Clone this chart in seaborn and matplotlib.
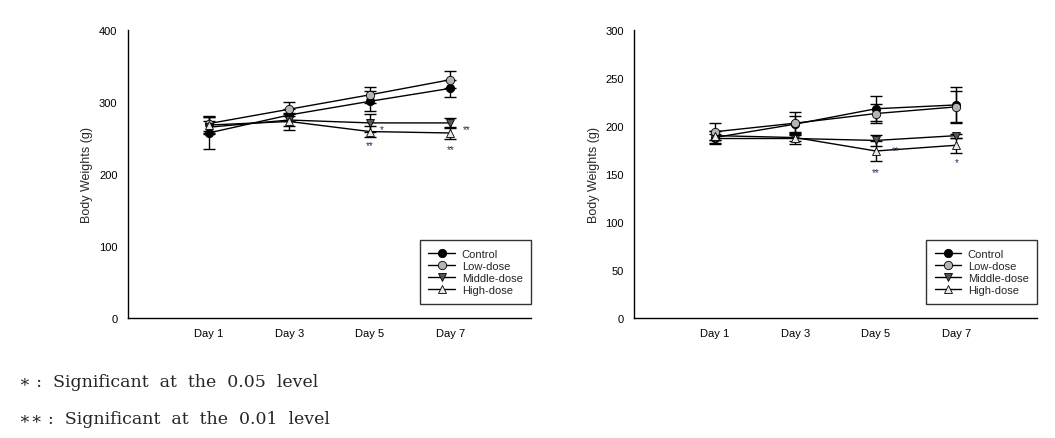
import numpy as np
import pandas as pd
import matplotlib
matplotlib.use("Agg")
import matplotlib.pyplot as plt
import seaborn as sns

DAYS = [1, 3, 5, 7]
DAY_LABELS = ["Day 1", "Day 3", "Day 5", "Day 7"]
GROUPS = ["Control", "Low-dose", "Middle-dose", "High-dose"]

# left panel: mean and SD per group (g)
LEFT_MEAN = {
    "Control": [257, 282, 301, 319],
    "Low-dose": [270, 290, 310, 331],
    "Middle-dose": [265, 275, 271, 271],
    "High-dose": [268, 273, 259, 257],
}
LEFT_SD = {
    "Control": [22, 8, 14, 12],
    "Low-dose": [10, 10, 11, 12],
    "Middle-dose": [9, 8, 12, 7],
    "High-dose": [11, 12, 8, 8],
}
# right panel
RIGHT_MEAN = {
    "Control": [188, 202, 218, 222],
    "Low-dose": [194, 203, 213, 220],
    "Middle-dose": [187, 187, 185, 190],
    "High-dose": [190, 188, 174, 180],
}
RIGHT_SD = {
    "Control": [7, 8, 13, 19],
    "Low-dose": [9, 12, 10, 16],
    "Middle-dose": [5, 6, 6, 2],
    "High-dose": [5, 4, 10, 8],
}

# significance marks: (day, y, label)
LEFT_STARS = [(5, 240, "**"), (5.3, 262, "*"), (7, 234, "**"), (7.4, 263, "**")]
RIGHT_STARS = [(5, 152, "**"), (5.5, 175, "**"), (7, 162, "*")]

MARKERS = {"Control": "o", "Low-dose": "o", "Middle-dose": "v", "High-dose": "^"}
FACES = {"Control": "black", "Low-dose": "#b4b4b4", "Middle-dose": "#555555", "High-dose": "#e8e8e8"}
LINES = {"Control": "black", "Low-dose": "#3a3a3a", "Middle-dose": "black", "High-dose": "#4a4a4a"}


def to_long(mean, sd):
    rows = []
    for g in GROUPS:
        for d, m, s in zip(DAYS, mean[g], sd[g]):
            rows.append({"day": d, "group": g, "weight": m, "sd": s})
    return pd.DataFrame(rows)


def draw_panel(ax, df, ymax, ystep, stars):
    for g in GROUPS:
        sub = df[df["group"] == g]
        ax.errorbar(sub["day"], sub["weight"], yerr=sub["sd"], fmt="none",
                    ecolor="black", elinewidth=1, capsize=4, capthick=1, zorder=2)
    for g in GROUPS:
        sub = df[df["group"] == g]
        sns.lineplot(data=sub, x="day", y="weight", color=LINES[g], label=g,
                     marker=MARKERS[g], markersize=6, linewidth=1,
                     markerfacecolor=FACES[g], markeredgecolor="black",
                     markeredgewidth=0.6, ax=ax, zorder=3)
    for d, y, s in stars:
        ax.text(d, y, s, ha="center", va="center", fontsize=7, color="#2a2a5a")

    ax.set_xlim(-1, 9)
    ax.set_ylim(0, ymax)
    ax.set_xticks(DAYS)
    ax.set_xticklabels(DAY_LABELS)
    ax.set_yticks(np.arange(0, ymax + 1, ystep))
    ax.set_xlabel("")
    ax.set_ylabel("Body Weights (g)", fontsize=9)
    ax.tick_params(axis="both", labelsize=8, direction="out", length=4, width=1, colors="black")
    for side in ["top", "right"]:
        ax.spines[side].set_visible(False)
    for side in ["left", "bottom"]:
        ax.spines[side].set_color("black")
        ax.spines[side].set_linewidth(1)

    handles, labels = ax.get_legend_handles_labels()
    for h in handles:
        h.set_color("black")
        h.set_markeredgecolor("black")
    leg = ax.legend(handles, labels, loc="lower right", bbox_to_anchor=(1.0, 0.05),
                    fontsize=8, frameon=True, fancybox=False, borderaxespad=0,
                    handlelength=2.4, handletextpad=0.6, labelspacing=0.2,
                    borderpad=0.75)
    leg.get_frame().set_edgecolor("black")
    leg.get_frame().set_linewidth(1)
    leg.get_frame().set_facecolor("white")


sns.set_theme(style="white")
plt.rcParams["font.family"] = ["Liberation Sans", "DejaVu Sans"]

fig = plt.figure(figsize=(10.55, 4.39), dpi=100)
ax1 = fig.add_axes([0.1213, 0.2733, 0.382, 0.656])
ax2 = fig.add_axes([0.601, 0.2733, 0.382, 0.656])

draw_panel(ax1, to_long(LEFT_MEAN, LEFT_SD), 400, 100, LEFT_STARS)
draw_panel(ax2, to_long(RIGHT_MEAN, RIGHT_SD), 300, 50, RIGHT_STARS)

serif = ["DejaVu Serif"]
fig.text(0.018, 0.128, "\u2217 :  Significant  at  the  0.05  level", fontsize=12.5,
         family=serif, va="center")
fig.text(0.018, 0.045, "\u2217\u2217 :  Significant  at  the  0.01  level", fontsize=12.5,
         family=serif, va="center")

fig.savefig("out.png", dpi=100)
